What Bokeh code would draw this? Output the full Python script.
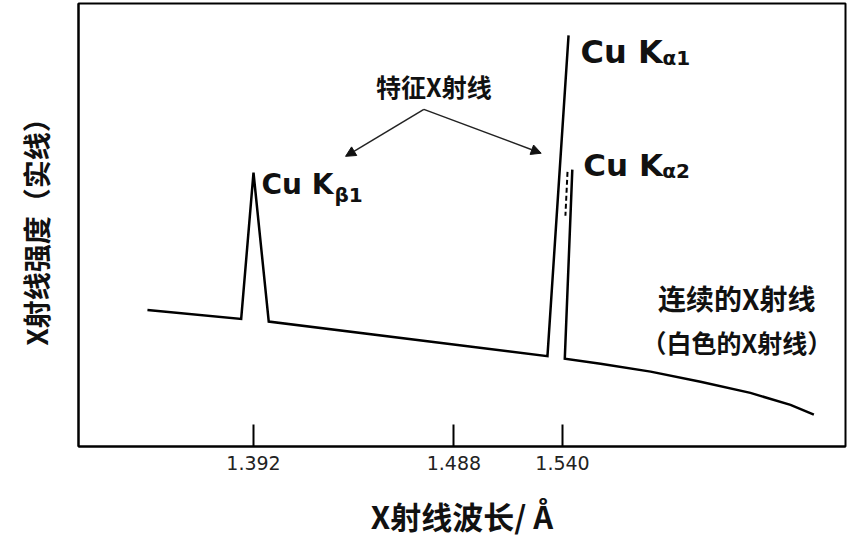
from bokeh.plotting import figure
from bokeh.models import Range1d, FixedTicker, Arrow, NormalHead, ColumnDataSource
from bokeh.embed import file_html
from bokeh.resources import INLINE
from bokeh.core.properties import value

# ---- data (wavelength in Å, relative intensity) ----
# continuum + Cu Kβ1 peak + rising edge of Cu Kα1
left_wl = [1.3412, 1.3861, 1.3920, 1.3993, 1.5328, 1.5429]
left_int = [30.8, 28.8, 61.8, 28.2, 20.4, 92.8]
# Cu Kα2 falling edge + continuum tail
right_wl = [1.5447, 1.5411, 1.5582, 1.5822, 1.6061, 1.6300, 1.6492, 1.6604]
right_int = [62.5, 19.8, 18.7, 16.9, 14.6, 12.1, 9.4, 7.2]
# hidden rising edge of Cu Kα2 (dashed)
ka2_wl = [1.5424, 1.5414]
ka2_int = [62.0, 52.1]

tick_values = [1.392, 1.488, 1.540]
tick_labels = ["1.392", "1.488", "1.540"]

# annotation anchors
arrow_apex = (1.4736, 76.1)
arrow_tips_wl = [1.4361, 1.5298]
arrow_tips_int = [65.5, 66.2]
cont_label_wl = [1.6235, 1.6235]
cont_label_int = [29.9, 20.2]
cont_labels = ["连续的X射线", "（白色的X射线）"]

CJK = value("Noto Sans CJK SC")
LAT = value("DejaVu Sans")

p = figure(width=855, height=540, output_backend="svg", toolbar_location=None,
           x_range=Range1d(1.30818, 1.67555), y_range=Range1d(0, 100),
           min_border_left=78, min_border_right=10, min_border_top=3, min_border_bottom=92)
p.background_fill_color = "white"
p.border_fill_color = "white"
p.outline_line_color = "black"
p.outline_line_width = 2
p.xgrid.grid_line_color = None
p.ygrid.grid_line_color = None

# x axis
p.xaxis.ticker = FixedTicker(ticks=tick_values)
p.xaxis.major_label_overrides = dict(zip(tick_values, tick_labels))
p.xaxis.minor_tick_line_color = None
p.xaxis.major_tick_in = 22
p.xaxis.major_tick_out = 0
p.xaxis.major_tick_line_width = 2
p.xaxis.major_tick_line_color = "black"
p.xaxis.axis_line_width = 2
p.xaxis.axis_line_color = "black"
p.xaxis.major_label_standoff = 9
p.xaxis.major_label_text_font = "DejaVu Sans"
p.xaxis.major_label_text_font_size = "19px"
p.xaxis.major_label_text_color = "#222222"
p.xaxis.axis_label = "X射线波长/ Å"
p.xaxis.axis_label_text_font = "Noto Sans CJK SC"
p.xaxis.axis_label_text_font_style = "bold"
p.xaxis.axis_label_text_font_size = "31px"
p.xaxis.axis_label_text_color = "#111111"
p.xaxis.axis_label_standoff = 20

# y axis
p.yaxis.ticker = FixedTicker(ticks=[])
p.yaxis.minor_tick_line_color = None
p.yaxis.major_tick_out = 0
p.yaxis.major_tick_in = 0
p.yaxis.major_label_standoff = 0
p.yaxis.axis_line_width = 2
p.yaxis.axis_line_color = "black"
p.yaxis.axis_label = "X射线强度（实线）"
p.yaxis.axis_label_text_font = "Noto Sans CJK SC"
p.yaxis.axis_label_text_font_style = "bold"
p.yaxis.axis_label_text_font_size = "28px"
p.yaxis.axis_label_text_color = "#111111"
p.yaxis.axis_label_standoff = 23

# spectrum
p.line(left_wl, left_int, line_color="black", line_width=2.5, line_join="miter")
p.line(right_wl, right_int, line_color="black", line_width=2.5, line_join="miter")
p.line(ka2_wl, ka2_int, line_color="black", line_width=2, line_dash="5 3")

# peak labels
kb = (left_wl[2], left_int[2])
ka1 = (left_wl[5], left_int[5])
ka2 = (right_wl[0], right_int[0])

def peak_label(pt, sub, size, sub_size, dx, dy, sdx, sdy):
    p.text(x=[pt[0]], y=[pt[1]], text=["Cu K"], text_font=LAT, text_font_style="bold",
           text_font_size=size, text_color="#111111", text_baseline="alphabetic",
           x_offset=dx, y_offset=dy)
    p.text(x=[pt[0]], y=[pt[1]], text=[sub], text_font=LAT, text_font_style="bold",
           text_font_size=sub_size, text_color="#111111", text_baseline="alphabetic",
           x_offset=sdx, y_offset=sdy)

peak_label(kb, "β1", "28px", "20px", 8, 12, 81, 22)
peak_label(ka1, "α1", "32px", "20px", 12, 17, 94, 23)
peak_label(ka2, "α2", "31px", "20px", 11, -5, 90, 1)

# characteristic X-ray annotation
p.text(x=[arrow_apex[0]], y=[arrow_apex[1]], text=["特征X射线"], text_font=CJK,
       text_font_style="bold", text_font_size="25px", text_color="#111111",
       text_align="center", text_baseline="bottom", x_offset=10, y_offset=-5)
arrows = ColumnDataSource(dict(x0=[arrow_apex[0]] * 2, y0=[arrow_apex[1]] * 2,
                               x1=arrow_tips_wl, y1=arrow_tips_int))
p.add_layout(Arrow(source=arrows, x_start="x0", y_start="y0", x_end="x1", y_end="y1",
                   line_color="#222222", line_width=1.5,
                   end=NormalHead(size=10, fill_color="#111111", line_color="#111111")))

# continuum annotation
p.text(x=cont_label_wl[:1], y=cont_label_int[:1], text=cont_labels[:1], text_font=CJK,
       text_font_style="bold", text_font_size="28px", text_color="#111111",
       text_align="center", text_baseline="bottom", y_offset=4)
p.text(x=cont_label_wl[1:], y=cont_label_int[1:], text=cont_labels[1:], text_font=CJK,
       text_font_style="bold", text_font_size="25px", text_color="#111111",
       text_align="center", text_baseline="bottom", y_offset=3)

open("out.html", "w").write(file_html(p, INLINE))
